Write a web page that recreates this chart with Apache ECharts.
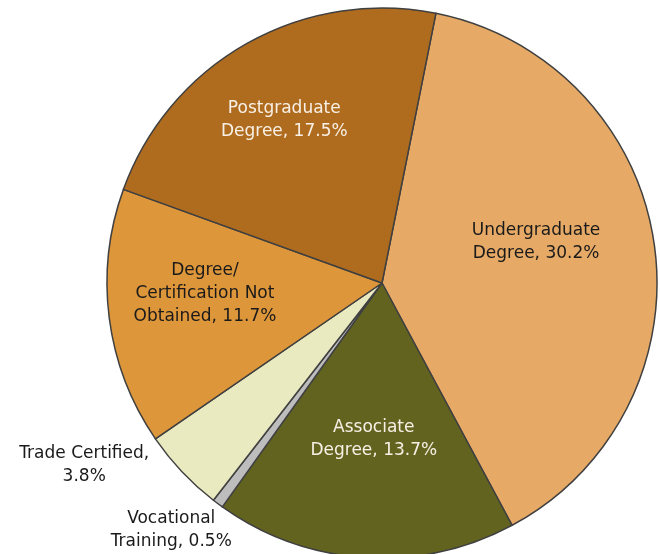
<!DOCTYPE html>
<html>
<head>
<meta charset="utf-8">
<script src="https://cdn.jsdelivr.net/npm/echarts@6/dist/echarts.min.js"></script>
<style>
  html, body { margin: 0; padding: 0; background: #fff; }
  #chart { width: 660px; height: 554px; }
</style>
</head>
<body>
<div id="chart"></div>
<script>
// categories in clockwise order, starting at the top-right boundary
const categories = [
  'Undergraduate\nDegree',
  'Associate\nDegree',
  'Vocational\nTraining',
  'Trade Certified',
  'Degree/\nCertification Not\nObtained',
  'Postgraduate\nDegree'
];
const shares = [30.2, 13.7, 0.5, 3.8, 11.7, 17.5];
const sliceColors = ['#E6AA66', '#636320', '#BDBDBD', '#EAEAC0', '#DE963A', '#B06C1E'];
const labelColors = ['#1a1a1a', '#f8f0e6', '#1a1a1a', '#1a1a1a', '#1a1a1a', '#f8f0e6'];

// label placement: [fraction of radius, angle clockwise from north]
const labelPlace = [[0.58, 75], [0.57, 183], [1.18, 220.5], [1.27, 238.5], [0.645, 266.5], [0.69, 329]];

const cx = 382, cy = 283, R = 275;

const chart = echarts.init(document.getElementById('chart'));
chart.setOption({
  animation: false,
  series: [{
    type: 'pie',
    center: [cx, cy],
    radius: [0, R],
    startAngle: 78.7,
    clockwise: true,
    avoidLabelOverlap: false,
    itemStyle: { borderColor: '#404040', borderWidth: 1.5 },
    label: {
      position: 'inside',
      fontFamily: 'DejaVu Sans',
      fontSize: 17,
      lineHeight: 23,
      align: 'center',
      formatter: p => p.name.indexOf('\n') < 0 ? p.name + ',\n' + p.value + '%' : p.name + ', ' + p.value + '%'
    },
    labelLine: { show: false },
    labelLayout: p => {
      const pl = labelPlace[p.dataIndex];
      const a = pl[1] * Math.PI / 180;
      return {
        x: cx + pl[0] * R * Math.sin(a),
        y: cy - pl[0] * R * Math.cos(a),
        align: 'center',
        verticalAlign: 'middle'
      };
    },
    data: categories.map((c, i) => ({
      name: c,
      value: shares[i],
      itemStyle: { color: sliceColors[i] },
      label: { color: labelColors[i] }
    }))
  }]
});
</script>
</body>
</html>
